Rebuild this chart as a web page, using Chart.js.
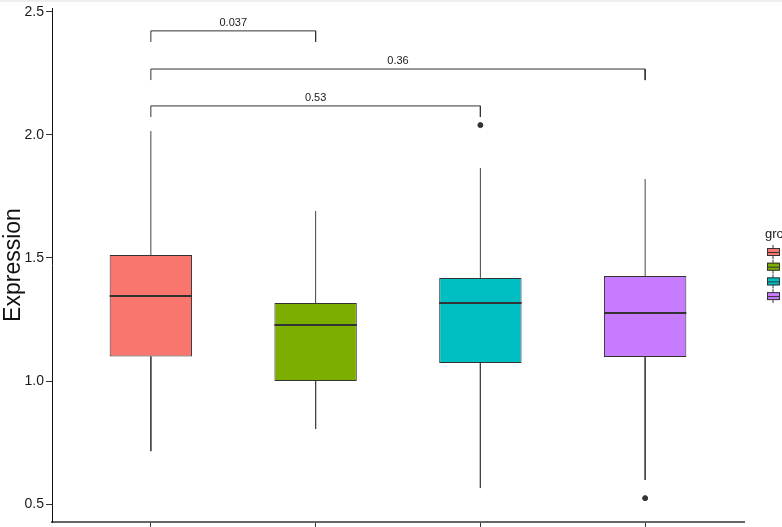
<!DOCTYPE html>
<html><head><meta charset="utf-8">
<script src="https://cdn.jsdelivr.net/npm/chart.js@4/dist/chart.umd.min.js"></script>
<style>html,body{margin:0;padding:0;background:#fff;overflow:hidden}</style>
</head><body>
<canvas id="c" width="782" height="527"></canvas>
<script>
const groupNames = ['1','2','3','4'];
const groupPos = [1,2,3,4];
const groupColors = ['#F8766D','#7CAE00','#00BFC4','#C77CFF'];
const whiskerLow = [0.715,0.805,0.565,0.598];
const q1 = [1.100,1.000,1.073,1.098];
const median = [1.346,1.228,1.317,1.276];
const q3 = [1.512,1.317,1.419,1.427];
const whiskerHigh = [2.016,1.691,1.866,1.821];
const outliers = [[],[],[2.040],[0.524]];
const compFrom = [1,1,1];
const compTo = [2,4,3];
const compP = ['0.037','0.36','0.53'];
const compY = [2.423,2.268,2.118];
const yTicks = [0.5,1.0,1.5,2.0,2.5];
const yTickLabels = ['0.5','1.0','1.5','2.0','2.5'];
const legendTitle = 'group';

const boxHalf = 0.25, drop = 0.045;
const boxData = groupPos.map((x,i)=>({x:x,y:[q1[i],q3[i]]}));
const whiskData = [];
groupPos.forEach((x,i)=>{
  whiskData.push({x:x,y:q3[i]},{x:x,y:whiskerHigh[i]},{x:x,y:null});
  whiskData.push({x:x,y:q1[i]},{x:x,y:whiskerLow[i]},{x:x,y:null});
});
const medData = [];
groupPos.forEach((x,i)=>{ medData.push({x:x-boxHalf,y:median[i]},{x:x+boxHalf,y:median[i]},{x:x,y:null}); });
const outData = [];
groupPos.forEach((x,i)=>outliers[i].forEach(v=>outData.push({x:x,y:v})));
const brData = [];
compFrom.forEach((a,i)=>{
  const b = compTo[i], y = compY[i];
  brData.push({x:a,y:y-drop},{x:a,y:y},{x:b,y:y},{x:b,y:y-drop},{x:b,y:null});
});

const annot = {
  id:'annot',
  beforeDraw(chart){
    const c = chart.ctx;
    c.save(); c.fillStyle='#ffffff'; c.fillRect(0,0,chart.width,chart.height);
    c.fillStyle='#efefef'; c.fillRect(0,0,chart.width,2); c.restore();
  },
  afterDatasetsDraw(chart){
    const c = chart.ctx, xs = chart.scales.x, ys = chart.scales.y;
    c.save();
    c.font = '11px "Liberation Sans", Arial, sans-serif';
    c.fillStyle = '#1a1a1a'; c.textAlign='center'; c.textBaseline='alphabetic';
    compFrom.forEach((a,i)=>{
      const xm = (xs.getPixelForValue(a)+xs.getPixelForValue(compTo[i]))/2;
      c.fillText(compP[i], xm, ys.getPixelForValue(compY[i]) - 5);
    });
    // legend (cut off at right edge)
    c.font = '13px "Liberation Sans", Arial, sans-serif';
    c.textAlign='left';
    c.fillText(legendTitle, 765, 238);
    groupColors.forEach((col,i)=>{
      const cy = 252 + i*14.7, x0 = 767, w = 12;
      c.strokeStyle='#333'; c.lineWidth=1;
      c.beginPath(); c.moveTo(x0+w/2, cy-7); c.lineTo(x0+w/2, cy+7); c.stroke();
      c.fillStyle=col; c.fillRect(x0, cy-4, w, 8);
      c.strokeRect(x0+0.5, cy-3.5, w, 7);
      c.beginPath(); c.moveTo(x0, cy+0.5); c.lineTo(x0+w, cy+0.5); c.stroke();
    });
    c.restore();
  }
};

new Chart(document.getElementById('c'), {
  data: {
    datasets: [
      {type:'line', label:'brackets', data:brData, borderColor:'#333', borderWidth:1, pointRadius:0, spanGaps:false, order:0},
      {type:'line', label:'median', data:medData, borderColor:'#333', borderWidth:2, pointRadius:0, spanGaps:false, order:1},
      {type:'scatter', label:'outliers', data:outData, backgroundColor:'#333', borderColor:'#333', pointRadius:2.5, order:1},
      {type:'bar', label:'box', data:boxData, backgroundColor:groupColors, borderColor:'#333', borderWidth:1, borderSkipped:false, barPercentage:0.5, categoryPercentage:1, order:2},
      {type:'line', label:'whisker', data:whiskData, borderColor:'#444', borderWidth:1, pointRadius:0, spanGaps:false, order:3}
    ]
  },
  options: {
    responsive:false, animation:false, devicePixelRatio:1,
    layout:{padding:{left:0, top:8, right:38, bottom:0}},
    plugins:{legend:{display:false}, tooltip:{enabled:false}},
    scales:{
      x:{type:'linear', min:0.4, max:4.6, offset:false,
        afterBuildTicks(s){ s.ticks = groupPos.map(v=>({value:v})); },
        afterFit(s){ s.height = 5; s.paddingLeft = 0; s.paddingRight = 0; },
        ticks:{callback:()=> '', padding:0},
        grid:{offset:false, drawOnChartArea:false, drawTicks:true, tickLength:5, tickColor:'#333', tickWidth:1},
        border:{display:true, color:'#666', width:2}
      },
      y:{type:'linear', min:0.427, max:2.516,
        afterBuildTicks(s){ s.ticks = yTicks.map(v=>({value:v})); },
        afterFit(s){ s.width = 52; s.paddingTop = 0; s.paddingBottom = 0; },
        ticks:{callback:(v)=>{const k=yTicks.indexOf(v); return k>=0?yTickLabels[k]:'';}, color:'#1a1a1a', padding:2,
          font:{family:'"Liberation Sans", Arial, sans-serif', size:14}},
        grid:{drawOnChartArea:false, drawTicks:true, tickLength:6, tickColor:'#333', tickWidth:1},
        border:{display:true, color:'#111', width:1},
        title:{display:true, text:'Expression', color:'#111', padding:{top:0,bottom:0},
          font:{family:'"Liberation Sans", Arial, sans-serif', size:23}}
      }
    }
  },
  plugins:[annot]
});
</script>
</body></html>
